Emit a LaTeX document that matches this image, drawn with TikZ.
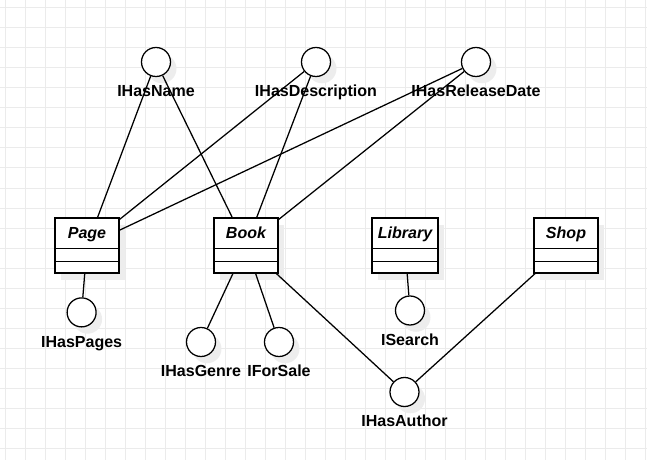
\documentclass[tikz,border=0pt]{standalone}
\usepackage{fontspec}
\setmainfont{Liberation Sans}
\usetikzlibrary{positioning,shadows}

\tikzset{
  gridline/.style={draw=black!8, line width=0.7pt},
  soft/.style={drop shadow={shadow xshift=0.15cm, shadow yshift=-0.17cm, fill=black!7, opacity=1}},
  cls/.style={draw, line width=0.9pt, fill=white, soft, minimum height=1.375cm, inner sep=0pt},
  iface/.style={draw, circle, line width=0.9pt, fill=white, soft, minimum size=0.725cm, inner sep=0pt},
  ilabel/.style={font=\fontsize{11.4}{13}\selectfont\bfseries, inner sep=0pt},
  ctitle/.style={font=\fontsize{11.4}{13}\selectfont\bfseries\itshape, inner sep=0pt, anchor=base},
  edge/.style={line width=0.9pt}
}

\begin{document}
\begin{tikzpicture}
\useasboundingbox (0,0) rectangle (16.175,11.5);
\draw[gridline, step=0.5cm, shift={(0.125,0.3)}] (-0.125,-0.3) grid (16.05,11.2);

% classes
\node[cls, minimum width=1.6cm] (page) at (2.175,5.3625) {};
\node[cls, minimum width=1.6cm] (book) at (6.15,5.3625) {};
\node[cls, minimum width=1.65cm] (library) at (10.125,5.3625) {};
\node[cls, minimum width=1.6cm] (shop) at (14.15,5.3625) {};
\foreach \c in {page,book,library,shop} {
  \draw[edge] ([yshift=-0.775cm]\c.north west) -- ([yshift=-0.775cm]\c.north east);
  \draw[edge] ([yshift=-1.1cm]\c.north west) -- ([yshift=-1.1cm]\c.north east);
}
\node[ctitle] (pageT) at ([yshift=-0.53cm]page.north) {Page};
\node[ctitle] (bookT) at ([yshift=-0.53cm]book.north) {Book};
\node[ctitle] (libraryT) at ([yshift=-0.53cm]library.north) {Library};
\node[ctitle] (shopT) at ([yshift=-0.53cm]shop.north) {Shop};

% interfaces
\node[iface] (name) at (3.9,9.95) {};
\node[iface] (descr) at (7.9,9.95) {};
\node[iface] (release) at (11.9,9.95) {};
\node[iface] (pages) at (2.04,3.69) {};
\node[iface] (genre) at (5.025,2.95) {};
\node[iface] (sale) at (6.975,2.95) {};
\node[iface] (search) at (10.25,3.7375) {};
\node[iface] (author) at (10.1125,1.7) {};

\node[ilabel, below=0.875cm of name.center, anchor=base] (nameL) {IHasName};
\node[ilabel, below=0.875cm of descr.center, anchor=base] (descrL) {IHasDescription};
\node[ilabel, below=0.875cm of release.center, anchor=base] (releaseL) {IHasReleaseDate};
\node[ilabel, below=0.875cm of pages.center, anchor=base] (pagesL) {IHasPages};
\node[ilabel, below=0.875cm of genre.center, anchor=base] (genreL) {IHasGenre};
\node[ilabel, below=0.875cm of sale.center, anchor=base] (saleL) {IForSale};
\node[ilabel, below=0.875cm of search.center, anchor=base] (searchL) {ISearch};
\node[ilabel, below=0.875cm of author.center, anchor=base] (authorL) {IHasAuthor};

% links
\draw[edge] (name) -- (page);
\draw[edge] (name) -- (book);
\draw[edge] (descr) -- (page);
\draw[edge] (descr) -- (book);
\draw[edge] (release) -- (page);
\draw[edge] (release) -- (book);
\draw[edge] (page) -- (pages);
\draw[edge] (book) -- (genre);
\draw[edge] (book) -- (sale);
\draw[edge] (book) -- (author);
\draw[edge] (library) -- (search);
\draw[edge] (shop) -- (author);
\end{tikzpicture}
\end{document}
